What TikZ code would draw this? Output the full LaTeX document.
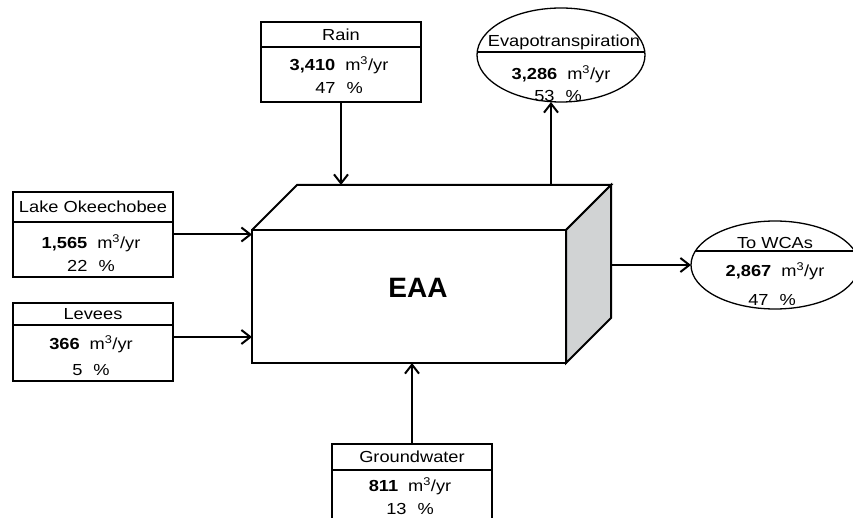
\documentclass[tikz,border=0pt]{standalone}
\usepackage{fontspec}
\setmainfont[FakeStretch=1.14]{Liberation Sans}
\newfontfamily\eaafont{Liberation Sans}
\usetikzlibrary{arrows.meta,shapes.geometric}
\definecolor{sidegray}{RGB}{209,211,212}
\tikzset{
  src/.style={draw, line width=2pt, minimum width=160pt, inner sep=0pt, outer sep=0pt},
  sink/.style={draw, ellipse, line width=1.3pt, inner sep=0pt, outer sep=0pt},
  flow/.style={line width=2pt, -{Straight Barb[length=9pt,width=14pt]}},
  lbl/.style={font=\fontsize{16}{18}\selectfont, inner sep=0pt},
}
\begin{document}
\begin{tikzpicture}[x=1pt,y=-1pt]
    \useasboundingbox (0,0) rectangle (853,518);

    %EAA block
    \node[draw, line width=2pt, outer sep=0pt, minimum width=314pt, minimum height=133pt] (eaa) at (409,296.5) {};
    \coordinate (backL) at ([shift={(45,-45)}]eaa.north west);
    \coordinate (backR) at ([shift={(45,-45)}]eaa.north east);
    \draw[line width=2pt] (eaa.north west) -- (backL) -- (backR) -- (eaa.north east);
    \filldraw[fill=sidegray, line width=2pt] (eaa.north east) -- (backR) -- ++(0,133) -- (eaa.south east) -- cycle;
    \node[font=\eaafont\bfseries\fontsize{28}{30}\selectfont] (eaaT) at (418,288) {EAA};

    %Inputs
    \node[src, minimum height=80pt] (rain) at (341,62) {};
    \draw[line width=2pt] (261,47) -- (421,47);
    \node[lbl] (rainT) at (341,35) {Rain};
    \node[lbl] (rainV) at (339,65) {\textbf{3,410}\hspace{10pt}m\textsuperscript{3}/yr};
    \node[lbl] (rainP) at (339,88) {47\hspace{11pt}\%};

    \node[src, minimum height=85pt] (lake) at (93,234.5) {};
    \draw[line width=2pt] (13,222) -- (173,222);
    \node[lbl] (lakeT) at (93,207) {Lake Okeechobee};
    \node[lbl] (lakeV) at (91,243) {\textbf{1,565}\hspace{10pt}m\textsuperscript{3}/yr};
    \node[lbl] (lakeP) at (91,266) {22\hspace{11pt}\%};

    \node[src, minimum height=78pt] (levees) at (93,342) {};
    \draw[line width=2pt] (13,325) -- (173,325);
    \node[lbl] (leveesT) at (93,314) {Levees};
    \node[lbl] (leveesV) at (91,344) {\textbf{366}\hspace{10pt}m\textsuperscript{3}/yr};
    \node[lbl] (leveesP) at (91,370) {5\hspace{11pt}\%};

    \node[src, minimum height=80pt] (gw) at (412,484) {};
    \draw[line width=2pt] (332,470) -- (492,470);
    \node[lbl] (gwT) at (412,457) {Groundwater};
    \node[lbl] (gwV) at (410,486) {\textbf{811}\hspace{10pt}m\textsuperscript{3}/yr};
    \node[lbl] (gwP) at (410,509) {13\hspace{11pt}\%};

    %Outputs
    \node[sink, minimum width=168pt, minimum height=94pt] (evap) at (561,55) {};
    \draw[line width=1.3pt] (evap.178) -- (evap.2);
    \node[lbl] (evapT) at (564,42) {Evapotranspiration};
    \node[lbl] (evapV) at (561,74) {\textbf{3,286}\hspace{10pt}m\textsuperscript{3}/yr};
    \node[lbl] (evapP) at (558,96) {53\hspace{11pt}\%};
    \coordinate (evapIn) at ([xshift=-10pt]evap.south);

    \node[sink, minimum width=168pt, minimum height=88pt] (wca) at (775,265) {};
    \draw[line width=1.3pt] (wca.170) -- (wca.10);
    \node[lbl] (wcaT) at (775,243) {To WCAs};
    \node[lbl] (wcaV) at (775,271) {\textbf{2,867}\hspace{10pt}m\textsuperscript{3}/yr};
    \node[lbl] (wcaP) at (772,300) {47\hspace{11pt}\%};

    %Flows
    \draw[flow] (rain) -- (rain |- backL);
    \draw[flow] (evapIn |- backL) -- (evapIn);
    \draw[flow] (lake) -- (lake -| eaa.west);
    \draw[flow] ([yshift=5pt]levees.east) -- ([yshift=5pt]levees.east -| eaa.west);
    \draw[flow] (gw) -- (gw |- eaa.south);
    \draw[flow] (backR |- wca) -- (wca);
\end{tikzpicture}
\end{document}
